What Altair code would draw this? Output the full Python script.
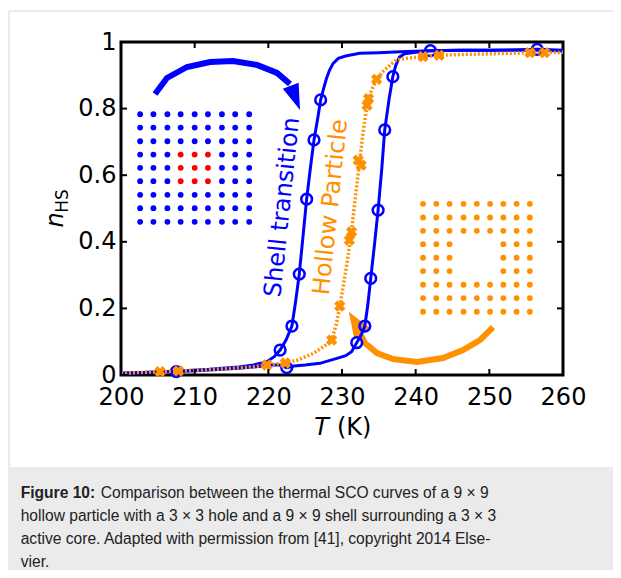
import altair as alt
import pandas as pd

BLUE = "#0000ff"
ORANGE = "#ff9000"
RED = "#ff0000"

# ---------------- data ----------------
# Shell transition: cooling branch (left loop side)
shell_cool_T = [200, 204, 208, 212, 216, 218, 219.8, 220.8, 221.6, 222.4, 223.2, 223.7, 224.2, 224.7,
                225.2, 225.7, 226.2, 226.7, 227.1, 227.5, 227.9, 228.3, 228.8, 229.5, 230.5, 232.4,
                235, 237.9, 242, 246, 250, 255, 260]
shell_cool_n = [0.005, 0.008, 0.012, 0.017, 0.024, 0.03, 0.04, 0.055, 0.075, 0.105, 0.147, 0.22, 0.303,
                0.415, 0.528, 0.62, 0.706, 0.77, 0.826, 0.86, 0.891, 0.915, 0.936, 0.951, 0.958, 0.966,
                0.968, 0.971, 0.974, 0.975, 0.975, 0.975, 0.974]
# Shell transition: heating branch (right loop side)
shell_heat_T = [200, 204, 207.5, 212, 216, 219, 220.5, 221.5, 222.5, 223.5, 225, 227, 229.3, 230.5, 231.3,
                232, 232.6, 233.1, 233.5, 233.9, 234.4, 234.9, 235.4, 235.8, 236.4, 236.9, 237.3, 237.8,
                238.5, 240, 242, 246, 250, 256.5, 260]
shell_heat_n = [0.005, 0.008, 0.01, 0.015, 0.02, 0.026, 0.03, 0.03, 0.022, 0.027, 0.03, 0.035, 0.05, 0.058,
                0.07, 0.097, 0.12, 0.147, 0.21, 0.29, 0.39, 0.495, 0.62, 0.736, 0.83, 0.896, 0.93, 0.955,
                0.965, 0.969, 0.974, 0.975, 0.975, 0.978, 0.975]
shell_mark_T = [207.5, 222.5, 232.0, 233.1, 233.9, 234.9, 235.8, 236.9, 242.0, 256.5,
                221.6, 223.2, 224.2, 225.2, 226.2, 227.1]
shell_mark_n = [0.01, 0.022, 0.097, 0.147, 0.29, 0.495, 0.736, 0.896, 0.974, 0.978,
                0.075, 0.147, 0.303, 0.528, 0.706, 0.826]

# Hollow particle
hollow_T = [200, 203, 205.3, 207.8, 211, 215, 218, 219.8, 221, 222.3, 224, 226.1, 227.5, 228.6, 229.2,
            229.7, 230.2, 230.7, 231.2, 231.8, 232.4, 232.9, 233.4, 234.0, 234.7, 235.5, 236.5, 237.4,
            238.8, 241, 243.2, 247, 251, 255.5, 257.5, 260]
hollow_n = [0.005, 0.008, 0.01, 0.012, 0.015, 0.02, 0.025, 0.03, 0.033, 0.036, 0.045, 0.065, 0.085, 0.105,
            0.15, 0.205, 0.27, 0.34, 0.415, 0.53, 0.645, 0.735, 0.81, 0.855, 0.888, 0.91, 0.93, 0.946,
            0.951, 0.956, 0.96, 0.963, 0.965, 0.968, 0.968, 0.969]
hollow_mark_T = [205.3, 207.8, 219.8, 222.3, 228.6, 229.7, 231.0, 231.3, 232.2, 232.6, 233.4, 233.6,
                 234.7, 241.0, 243.2, 255.5, 257.5]
hollow_mark_n = [0.010, 0.012, 0.030, 0.036, 0.105, 0.207, 0.405, 0.43, 0.645, 0.63, 0.81, 0.83,
                 0.888, 0.956, 0.960, 0.968, 0.968]

# Lattice sketches (9 x 9)
blue_grid_T = [202.6, 204.4, 206.3, 208.1, 210.0, 211.8, 213.7, 215.5, 217.4]
blue_grid_n = [0.783, 0.743, 0.702, 0.662, 0.622, 0.582, 0.541, 0.501, 0.460]
orange_grid_T = [241.0, 242.8, 244.6, 246.5, 248.3, 250.1, 251.9, 253.7, 255.5]
orange_grid_n = [0.514, 0.473, 0.433, 0.393, 0.352, 0.312, 0.271, 0.231, 0.190]
core_index = [3, 4, 5]

# Curved arrows (shaft centre line) and arrow heads
blue_arrow_T = [204.62, 206.24, 208.96, 212.08, 215.20, 218.46, 221.18, 222.94]
blue_arrow_n = [0.844, 0.892, 0.925, 0.940, 0.943, 0.931, 0.907, 0.874]
blue_head = dict(T=223.67, n=0.832, angle=339)
orange_arrow_T = [250.50, 248.73, 246.42, 243.71, 240.18, 236.92, 234.75, 233.12, 232.6]
orange_arrow_n = [0.144, 0.105, 0.075, 0.051, 0.039, 0.048, 0.066, 0.096, 0.118]
orange_head = dict(T=231.86, n=0.1565, angle=328)

x_ticks = [200, 210, 220, 230, 240, 250, 260]
y_ticks = [0, 0.2, 0.4, 0.6, 0.8, 1.0]

caption_bold = "Figure 10:"
caption_lines = [
    "Comparison between the thermal SCO curves of a 9 \u00d7 9",
    "hollow particle with a 3 \u00d7 3 hole and a 9 \u00d7 9 shell surrounding a 3 \u00d7 3",
    "active core. Adapted with permission from [41], copyright 2014 Else-",
    "vier.",
]

# ---------------- chart ----------------
W, H = 442, 333
xs = alt.Scale(domain=[200, 260], nice=False, zero=False)
ys = alt.Scale(domain=[0, 1], nice=False, zero=False)
xaxis = alt.Axis(values=x_ticks, format="d", title=None, grid=False, domain=False, ticks=False,
                 labelPadding=10, labelFontSize=24, labelFont="DejaVu Sans", labelColor="black",
                 labelFlush=False, labelOverlap=False, zindex=1)
yaxis = alt.Axis(values=y_ticks, format="~g", title=None, grid=False, domain=False, ticks=False,
                 labelPadding=5, labelFontSize=24, labelFont="DejaVu Sans", labelColor="black",
                 labelFlush=False, labelOverlap=False, zindex=1)


def X(f="T"):
    return alt.X(f, type="quantitative", scale=xs, axis=xaxis)


def Y(f="n"):
    return alt.Y(f, type="quantitative", scale=ys, axis=yaxis)


shell_df = pd.concat([
    pd.DataFrame({"T": shell_cool_T, "n": shell_cool_n, "branch": "cool", "i": range(len(shell_cool_T))}),
    pd.DataFrame({"T": shell_heat_T, "n": shell_heat_n, "branch": "heat", "i": range(len(shell_heat_T))}),
])
shell_marks = pd.DataFrame({"T": shell_mark_T, "n": shell_mark_n})
hollow_df = pd.DataFrame({"T": hollow_T, "n": hollow_n, "i": range(len(hollow_T))})
hollow_marks = pd.DataFrame({"T": hollow_mark_T, "n": hollow_mark_n})

blue_cells, red_cells, orange_cells = [], [], []
for r in range(9):
    for c in range(9):
        core = (r in core_index) and (c in core_index)
        (red_cells if core else blue_cells).append({"T": blue_grid_T[c], "n": blue_grid_n[r]})
        if not core:
            orange_cells.append({"T": orange_grid_T[c], "n": orange_grid_n[r]})
blue_cells = pd.DataFrame(blue_cells)
red_cells = pd.DataFrame(red_cells)
orange_cells = pd.DataFrame(orange_cells)

blue_arrow = pd.DataFrame({"T": blue_arrow_T, "n": blue_arrow_n, "i": range(len(blue_arrow_T))})
orange_arrow = pd.DataFrame({"T": orange_arrow_T, "n": orange_arrow_n, "i": range(len(orange_arrow_T))})

one = pd.DataFrame({"a": [0]})
layers = []

# page-like background: bordered box and grey caption band
layers.append(alt.Chart(one).mark_rect(
    fillOpacity=0, stroke="#d8d8d8", strokeWidth=1).encode(
    x=alt.value(-112), x2=alt.value(560), y=alt.value(-31), y2=alt.value(600)))
layers.append(alt.Chart(one).mark_rect(fill="#ebebeb").encode(
    x=alt.value(-113), x2=alt.value(560), y=alt.value(425), y2=alt.value(600)))

# lattices
layers.append(alt.Chart(blue_cells).mark_circle(size=34, opacity=1, color=BLUE).encode(x=X(), y=Y()))
layers.append(alt.Chart(red_cells).mark_circle(size=34, opacity=1, color=RED).encode(x=X(), y=Y()))
layers.append(alt.Chart(orange_cells).mark_circle(size=34, opacity=1, color=ORANGE).encode(x=X(), y=Y()))

# arrows
layers.append(alt.Chart(blue_arrow).mark_line(color=BLUE, strokeWidth=6, strokeCap="butt").encode(
    x=X(), y=Y(), order="i:Q"))
layers.append(alt.Chart(pd.DataFrame([blue_head])).mark_point(
    shape="M-0.65,-1L0.65,-1L0,1Z", filled=True, size=676, opacity=1, color=BLUE, strokeWidth=0).encode(
    x=X(), y=Y(), angle=alt.Angle("angle:Q", scale=None)))
layers.append(alt.Chart(orange_arrow).mark_line(color=ORANGE, strokeWidth=6, strokeCap="butt").encode(
    x=X(), y=Y(), order="i:Q"))
layers.append(alt.Chart(pd.DataFrame([orange_head])).mark_point(
    shape="M-0.75,1L0.75,1L0,-1Z", filled=True, size=676, opacity=1, color=ORANGE, strokeWidth=0).encode(
    x=X(), y=Y(), angle=alt.Angle("angle:Q", scale=None)))

# curves
layers.append(alt.Chart(shell_df).mark_line(color=BLUE, strokeWidth=3).encode(
    x=X(), y=Y(), detail="branch:N", order="i:Q"))
layers.append(alt.Chart(shell_marks).mark_point(
    shape="circle", filled=False, size=115, strokeWidth=2.5, color=BLUE, opacity=1).encode(x=X(), y=Y()))
layers.append(alt.Chart(hollow_df).mark_line(color=ORANGE, strokeWidth=3.5, strokeDash=[2, 2]).encode(
    x=X(), y=Y(), order="i:Q"))
layers.append(alt.Chart(hollow_marks).mark_point(
    shape="cross", angle=45, filled=True, size=130, color=ORANGE, opacity=1).encode(x=X(), y=Y()))

# inward tick marks on all four sides
tick_bottom = pd.DataFrame({"T": x_ticks, "n": 0.0})
tick_top = pd.DataFrame({"T": x_ticks, "n": 1.0})
tick_left = pd.DataFrame({"T": 200.0, "n": y_ticks})
tick_right = pd.DataFrame({"T": 260.0, "n": y_ticks})
layers.append(alt.Chart(tick_bottom).mark_tick(orient="vertical", size=6, thickness=2, color="black",
                                               yOffset=-3, opacity=1).encode(x=X(), y=Y()))
layers.append(alt.Chart(tick_top).mark_tick(orient="vertical", size=6, thickness=2, color="black",
                                            yOffset=3, opacity=1).encode(x=X(), y=Y()))
layers.append(alt.Chart(tick_left).mark_tick(orient="horizontal", size=6, thickness=2, color="black",
                                             xOffset=3, opacity=1).encode(x=X(), y=Y()))
layers.append(alt.Chart(tick_right).mark_tick(orient="horizontal", size=6, thickness=2, color="black",
                                              xOffset=-3, opacity=1).encode(x=X(), y=Y()))

# in-plot labels
shell_label = pd.DataFrame({"T": [221.95], "n": [0.504], "text": ["Shell transition"]})
hollow_label = pd.DataFrame({"T": [228.5], "n": [0.504], "text": ["Hollow Particle"]})
layers.append(alt.Chart(shell_label).mark_text(font="DejaVu Sans", fontSize=24, angle=276, align="center",
                                               baseline="middle", color=BLUE).encode(
    x=X(), y=Y(), text="text:N"))
layers.append(alt.Chart(hollow_label).mark_text(font="DejaVu Sans", fontSize=24, angle=276, align="center",
                                                baseline="middle", color=ORANGE).encode(
    x=X(), y=Y(), text="text:N"))

# axis titles
layers.append(alt.Chart(one).mark_text(text="T", font="DejaVu Sans", fontStyle="italic", fontSize=24,
                                       align="right", baseline="alphabetic", color="black").encode(
    x=alt.value(208), y=alt.value(393)))
layers.append(alt.Chart(one).mark_text(text="(K)", font="DejaVu Sans", fontSize=24,
                                       align="left", baseline="alphabetic", color="black").encode(
    x=alt.value(216), y=alt.value(393)))
layers.append(alt.Chart(one).mark_text(text="n", font="DejaVu Sans", fontStyle="italic", fontSize=24,
                                       angle=270, align="center", baseline="alphabetic", color="black").encode(
    x=alt.value(-58), y=alt.value(178)))
layers.append(alt.Chart(one).mark_text(text="HS", font="DejaVu Sans", fontSize=17,
                                       angle=270, align="center", baseline="alphabetic", color="black").encode(
    x=alt.value(-53), y=alt.value(159)))

# caption
cap_font = "Liberation Sans"
cap_size = 15.6
base0 = 455.5
lh = 23.2
layers.append(alt.Chart(one).mark_text(text=caption_bold, font=cap_font, fontSize=cap_size, fontWeight="bold",
                                       align="left", baseline="alphabetic", color="#222222").encode(
    x=alt.value(-100.3), y=alt.value(base0)))
for k, line in enumerate(caption_lines):
    x0 = -20.3 if k == 0 else -100.3
    layers.append(alt.Chart(one).mark_text(text=line, font=cap_font, fontSize=cap_size,
                                           align="left", baseline="alphabetic", color="#222222").encode(
        x=alt.value(x0), y=alt.value(base0 + k * lh)))

chart = alt.layer(*layers).properties(
    width=W, height=H,
    autosize=alt.AutoSizeParams(type="none"),
    padding={"left": 113, "top": 34, "right": 50, "bottom": 195},
).configure_view(stroke="black", strokeWidth=3)

chart.save("out.html", embed_options={"renderer": "svg", "actions": False})
